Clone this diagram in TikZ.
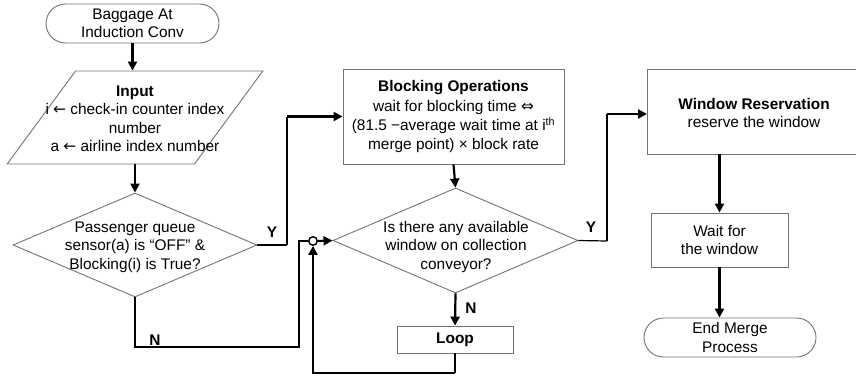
\documentclass[tikz,border=0pt]{standalone}
\usepackage{fontspec}
\setmainfont{Liberation Sans}
\newfontfamily\djv{DejaVu Sans}
\usetikzlibrary{shapes.geometric,shapes.misc,arrows.meta}
\begin{document}
\begin{tikzpicture}[x=1pt,y=-1pt,
  font=\fontsize{15.4}{18.5}\selectfont,
  box/.style={draw=black!55, line width=0.9pt, inner sep=0pt, align=center},
  term/.style={box, rounded rectangle},
  dec/.style={draw=black!55, line width=0.9pt, diamond, inner sep=0pt},
  thin/.style={line width=1.2pt},
  thk/.style={line width=2.2pt},
  arr/.style={thk, -{Triangle[length=9pt,width=9pt]}},
  lab/.style={font=\fontsize{15.4}{18}\selectfont\bfseries}]
\useasboundingbox (0,0) rectangle (856,386);
% nodes
\node[term, minimum width=173pt, minimum height=39pt] (start) at (132.5,23.5) {Baggage At\\Induction Conv};
\node[draw=black!55, line width=0.9pt, trapezium, trapezium left angle=61, trapezium right angle=119, trapezium stretches=true,
      inner sep=2pt, minimum width=256pt, minimum height=93pt] (input) at (135,117.5) {\phantom{x}};
\node[align=center] (inputtxt) at (135,119) {\textbf{Input}\\i {\djv←} check-in counter index\\number\\a {\djv←} airline index number};
\node[dec, minimum width=244pt, minimum height=104pt] (d1) at (135,245) {};
\node[align=center] (d1txt) at (135,247) {Passenger queue\\sensor(a) is “OFF” \&\\Blocking(i) is True?};
\node[box, minimum width=221pt, minimum height=95pt] (block) at (453.5,116.5)
  {\textbf{Blocking Operations}\\[1pt]wait for blocking time {\djv⇔}\\[1pt](81.5 −average wait time at i\textsuperscript{th}\\merge point) × block rate};
\node[dec, minimum width=245pt, minimum height=105pt] (d2) at (455.5,240.5) {};
\node[align=center] (d2txt) at (456,247) {Is there any available\\window on collection\\conveyor?};
\node[box, minimum width=116pt, minimum height=27pt] (loop) at (455,339.5) {\textbf{Loop}};
\node[box, minimum width=220pt, minimum height=85pt, anchor=west] (wres) at (647,111.5) {};
\node[align=center] (wrestxt) at (754,113) {\textbf{Window Reservation}\\reserve the window};
\node[box, minimum width=137pt, minimum height=54pt] (wait) at (719.5,240) {Wait for\\the window};
\node[term, minimum width=172pt, minimum height=39pt] (end) at (730,337.5) {End Merge\\Process};
\node[circle, draw, line width=1.4pt, minimum size=8.5pt, inner sep=0pt] (circ) at (313,241) {};
% coordinates
\coordinate (y1) at (287,245);
\coordinate (n1) at (135,347);
\coordinate (n2) at (299,347);
\coordinate (n3) at (299,241);
\coordinate (l1) at (455,373);
\coordinate (l2) at (313,373);
\coordinate (y2) at (607,241);
% connectors
\draw[arr] (start.south) -- (start.south |- input.north);
\draw[arr] (d1.north |- input.south) -- (d1.north);
\draw[thin] (d1.east) -- (y1);
\draw[thin] (y1) -- (y1 |- block.west);
\draw[arr] (y1 |- block.west) -- (block.west);
\node[lab] (ylab1) at (272,232) {Y};
\draw[thin] (d1.south) -- (n1) -- (n2) -- (n3) -- (circ.west);
\node[lab] (nlab1) at (155,340) {N};
\draw[arr] (circ.east) -- (d2.west);
\draw[arr] (block.south) -- (d2.north);
\draw[arr] (d2.south) -- (loop.north);
\node[lab] (nlab2) at (471,308) {N};
\draw[thin] (loop.south) -- (l1);
\draw[arr] (l1) -- (l2) -- (circ.south);
\draw[thin] (d2.east) -- (y2);
\draw[thin] (y2) -- (y2 |- 0,114);
\draw[arr] (y2 |- 0,114) -- (wres.west |- 0,114);
\node[lab] (ylab2) at (591,227) {Y};
\draw[arr] (wait.north |- wres.south) -- (wait.north);
\draw[arr] (wait.south) -- (wait.south |- end.north);
\end{tikzpicture}
\end{document}
